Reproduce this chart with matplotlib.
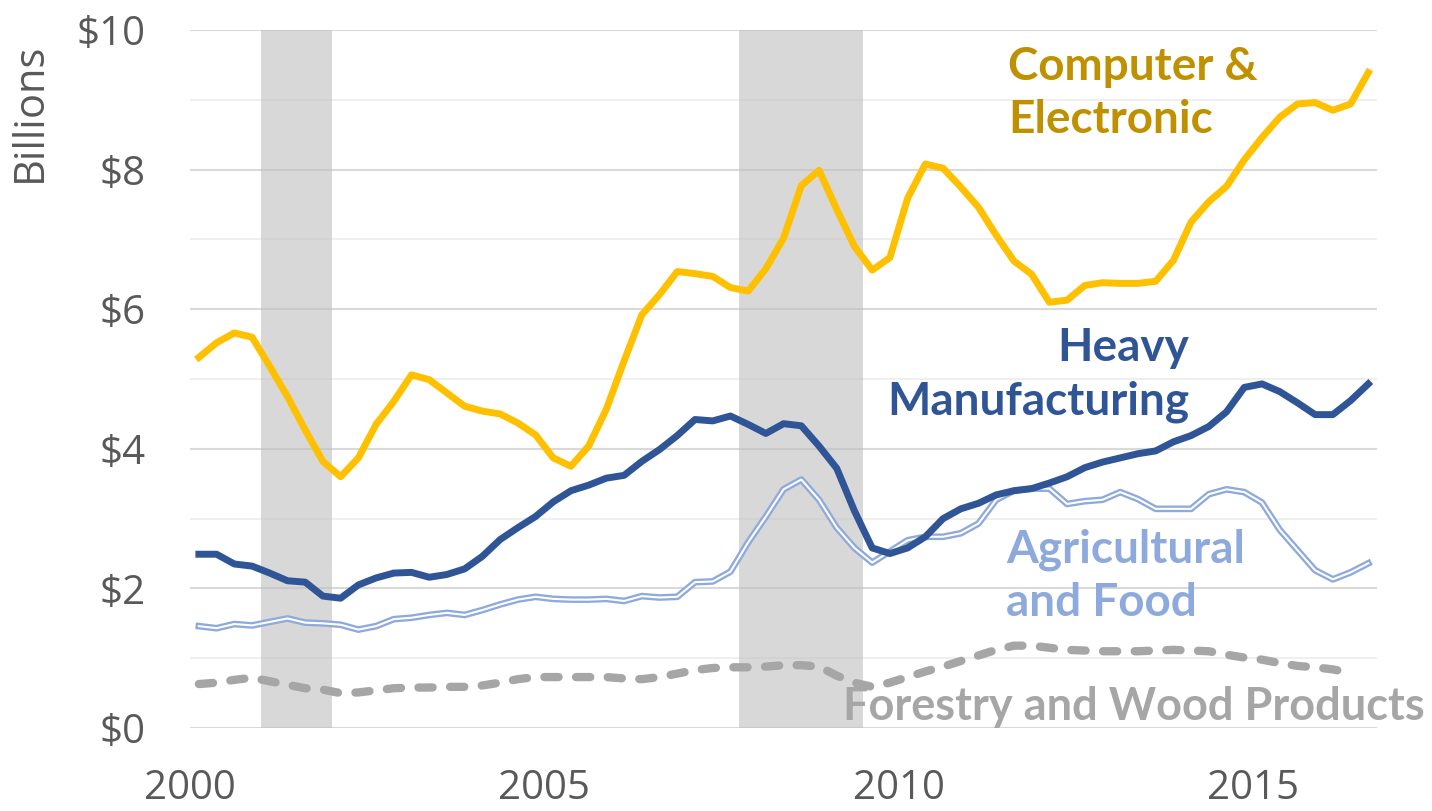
import numpy as np
import matplotlib
matplotlib.use('Agg')
import matplotlib.pyplot as plt

# quarterly values, $ billions, 2000Q1 .. 2016Q3
computer = [5.31, 5.52, 5.66, 5.60, 5.18, 4.75, 4.27, 3.82, 3.60, 3.87, 4.35, 4.68,
            5.06, 4.99, 4.80, 4.61, 4.54, 4.50, 4.37, 4.20, 3.87, 3.75, 4.04, 4.57,
            5.26, 5.92, 6.21, 6.54, 6.51, 6.47, 6.31, 6.26, 6.58, 7.02, 7.77, 7.99,
            7.43, 6.90, 6.56, 6.74, 7.59, 8.08, 8.02, 7.75, 7.46, 7.06, 6.69, 6.50,
            6.10, 6.13, 6.34, 6.38, 6.37, 6.37, 6.40, 6.70, 7.25, 7.54, 7.76, 8.14,
            8.46, 8.75, 8.94, 8.96, 8.85, 8.94, 9.39]
heavy = [2.49, 2.49, 2.35, 2.32, 2.22, 2.11, 2.09, 1.89, 1.86, 2.05, 2.15, 2.22,
         2.23, 2.16, 2.20, 2.28, 2.46, 2.70, 2.87, 3.03, 3.24, 3.40, 3.48, 3.58,
         3.62, 3.82, 3.99, 4.19, 4.42, 4.40, 4.47, 4.35, 4.22, 4.36, 4.33, 4.04,
         3.72, 3.11, 2.58, 2.50, 2.58, 2.74, 3.00, 3.14, 3.22, 3.34, 3.40, 3.43,
         3.51, 3.60, 3.73, 3.81, 3.87, 3.93, 3.97, 4.10, 4.19, 4.32, 4.53, 4.88,
         4.93, 4.82, 4.66, 4.49, 4.49, 4.69, 4.93]
agri = [1.46, 1.43, 1.49, 1.47, 1.52, 1.57, 1.51, 1.50, 1.48, 1.41, 1.46, 1.56,
        1.58, 1.62, 1.65, 1.62, 1.69, 1.77, 1.84, 1.88, 1.85, 1.84, 1.84, 1.85,
        1.82, 1.89, 1.87, 1.88, 2.09, 2.10, 2.24, 2.66, 3.03, 3.42, 3.56, 3.27,
        2.87, 2.58, 2.37, 2.53, 2.69, 2.74, 2.74, 2.79, 2.93, 3.27, 3.40, 3.43,
        3.43, 3.21, 3.25, 3.27, 3.38, 3.28, 3.14, 3.14, 3.14, 3.35, 3.42, 3.38,
        3.23, 2.84, 2.55, 2.26, 2.13, 2.23, 2.36]
forestry = [0.63, 0.65, 0.69, 0.72, 0.67, 0.62, 0.57, 0.55, 0.50, 0.51, 0.54, 0.57,
            0.58, 0.58, 0.59, 0.59, 0.61, 0.65, 0.70, 0.73, 0.73, 0.73, 0.73, 0.73,
            0.71, 0.70, 0.73, 0.78, 0.83, 0.86, 0.87, 0.87, 0.88, 0.90, 0.90, 0.88,
            0.75, 0.65, 0.59, 0.65, 0.73, 0.81, 0.88, 0.96, 1.04, 1.12, 1.18, 1.18,
            1.15, 1.12, 1.11, 1.10, 1.10, 1.10, 1.11, 1.12, 1.11, 1.10, 1.05, 1.01,
            0.98, 0.93, 0.89, 0.87, 0.84, 0.79]
recessions = [(2001.0, 2002.0), (2007.75, 2009.5)]
year_ticks = [2000, 2005, 2010, 2015]
dollar_ticks = [0, 2, 4, 6, 8, 10]

x = 2000.125 + 0.25 * np.arange(len(computer))
xf = 2000.125 + 0.25 * np.arange(len(forestry))

fig = plt.figure(figsize=(14.32, 8.11), dpi=100)
ax = fig.add_axes([0.1327, 0.1023, 0.829, 0.8607])

# gridlines, darker on the labelled values
for v in range(1, 11):
    c = '#d9d9d9' if v % 2 == 0 else '#efefef'
    ax.axhline(v, color=c, lw=1.5, zorder=1)
ax.axhline(0, color='#d9d9d9', lw=1.5, zorder=1)

for a, b in recessions:
    ax.axvspan(a, b, color='#bfbfbf', alpha=0.6, lw=0, zorder=2)

ax.plot(xf, forestry, color='#a6a6a6', lw=6, dashes=(1.7, 2.1),
        dash_capstyle='round', zorder=3)
ax.plot(x, agri, color='#8eaadc', lw=4.8, zorder=4)
ax.plot(x, agri, color='white', lw=1.5, zorder=4)
ax.plot(x, heavy, color='#2f5597', lw=5, solid_joinstyle='round', zorder=5)
ax.plot(x, computer, color='#ffc000', lw=5, solid_joinstyle='round', zorder=6)

ax.set_xlim(2000, 2016.75)
ax.set_ylim(0, 10)
for s in ax.spines.values():
    s.set_visible(False)
ax.set_xticks(year_ticks)
ax.set_xticklabels([str(t) for t in year_ticks])
ax.set_yticks(dollar_ticks)
ax.set_yticklabels(['$' + str(t) for t in dollar_ticks])
ax.tick_params(axis='both', length=0, colors='#595959', labelsize=29)
ax.tick_params(axis='x', pad=29)
ax.tick_params(axis='y', pad=32)
for lab in ax.get_xticklabels() + ax.get_yticklabels():
    lab.set_family('Open Sans')

fig.text(30 / 1432, 1 - 112 / 811, 'Billions', rotation=90, ha='center',
         va='center', fontsize=30, color='#595959', family='Open Sans')

lbl = dict(fontsize=33, fontweight='bold', family='Lato', linespacing=1.33,
           va='center', clip_on=False, zorder=7)
ax.text(2011.54, 9.09, 'Computer &\nElectronic', color='#bf9000', ha='left', **lbl)
ax.text(2014.10, 5.06, 'Heavy\nManufacturing', color='#2f5597', ha='right',
        multialignment='right', **lbl)
ax.text(2011.51, 2.18, 'Agricultural\nand Food', color='#8eaadc', ha='left', **lbl)
ax.text(2009.22, 0.30, 'Forestry and Wood Products', color='#a6a6a6', ha='left',
        **dict(lbl, fontsize=32.5))

fig.savefig('out.png', dpi=100)
